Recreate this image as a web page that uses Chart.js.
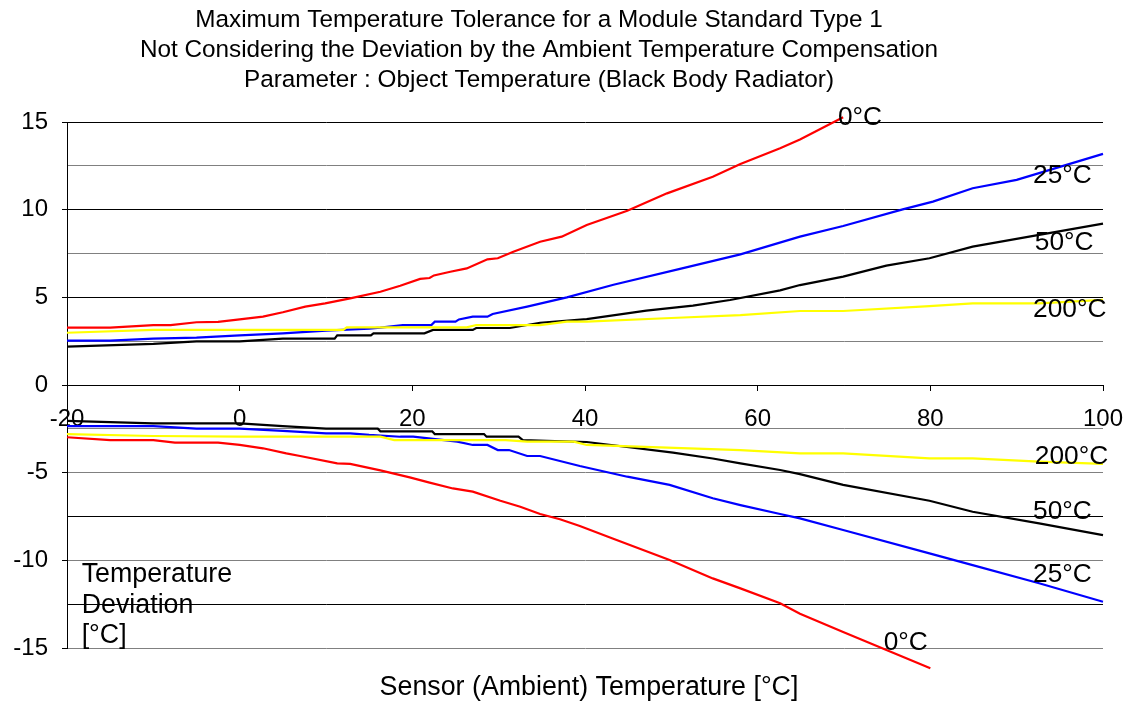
<!DOCTYPE html>
<html>
<head>
<meta charset="utf-8">
<script src="https://cdn.jsdelivr.net/npm/chart.js@4.4.0/dist/chart.umd.min.js"></script>
<style>
  html, body { margin: 0; padding: 0; background: #fff; }
</style>
</head>
<body>
<canvas id="chart" width="1128" height="704"></canvas>
<script>
// Curves: [sensor temperature, deviation]
const pos0C = [[-20,3.27],[-15,3.27],[-10,3.42],[-8,3.42],[-5,3.58],[-2.5,3.6],[0,3.74],[2.7,3.9],[5,4.15],[7.6,4.47],[9.9,4.66],[12.8,4.94],[16.3,5.32],[18.6,5.66],[20.9,6.05],[22,6.1],[22.5,6.25],[24.4,6.46],[26.3,6.65],[28.7,7.17],[29.9,7.23],[31.7,7.6],[34.8,8.17],[37.3,8.46],[40.2,9.13],[44.9,9.94],[49.5,10.93],[54.8,11.88],[58,12.6],[62.6,13.5],[64.9,14.0],[69.9,15.27]];
const pos25C = [[-20,2.53],[-15,2.53],[-10,2.64],[-5,2.7],[0,2.83],[5,2.95],[10,3.1],[15,3.21],[16.3,3.27],[18.9,3.42],[22.2,3.42],[22.6,3.61],[25,3.61],[25.4,3.74],[27,3.9],[28.7,3.9],[29.3,4.05],[33.3,4.47],[37.9,5.0],[43.3,5.72],[51,6.62],[58,7.45],[64.9,8.46],[69.9,9.07],[76.8,10.02],[80.3,10.46],[84.9,11.22],[90,11.7],[100,13.18]];
const pos50C = [[-20,2.19],[-10,2.34],[-5,2.49],[0,2.49],[5,2.64],[11,2.64],[11.3,2.83],[15.2,2.83],[15.5,2.95],[21.4,2.95],[22.4,3.14],[27,3.14],[27.4,3.25],[31.3,3.25],[34.8,3.55],[40.2,3.76],[47.1,4.24],[52.5,4.53],[56.8,4.85],[62.6,5.4],[64.9,5.7],[69.9,6.18],[74.9,6.81],[79.9,7.23],[84.9,7.89],[92.6,8.56],[100,9.2]];
const pos200C = [[-20,2.98],[-10,3.14],[0,3.14],[12,3.14],[12.4,3.29],[26.3,3.29],[27.4,3.42],[34.8,3.42],[37.9,3.61],[40.2,3.61],[50,3.82],[58,3.99],[64.9,4.22],[69.9,4.22],[79.9,4.5],[84.9,4.66],[92.6,4.66],[100,4.85]];
const neg0C = [[-20,-2.98],[-15,-3.14],[-10,-3.14],[-7.5,-3.29],[-2.5,-3.29],[0,-3.42],[2.7,-3.61],[5.4,-3.9],[7,-4.05],[11.3,-4.47],[12.8,-4.5],[16.3,-4.87],[19.7,-5.27],[22,-5.57],[24.7,-5.9],[27,-6.08],[30.2,-6.6],[32.5,-6.94],[34.8,-7.36],[37.1,-7.66],[39.4,-8.04],[43.2,-8.75],[49.8,-9.98],[54.8,-11.03],[58,-11.6],[62.6,-12.45],[64.9,-13.05],[69.9,-14.09],[80,-16.16]];
const neg25C = [[-20,-2.34],[-10,-2.34],[-5,-2.49],[0,-2.49],[5,-2.62],[10,-2.76],[12.8,-2.76],[15,-2.85],[18.6,-2.95],[20.1,-2.95],[25.2,-3.23],[27,-3.42],[28.7,-3.42],[29.9,-3.71],[31.2,-3.71],[33.3,-4.05],[34.8,-4.05],[39.4,-4.62],[44.9,-5.23],[49.8,-5.7],[54.8,-6.46],[58,-6.85],[62.6,-7.36],[64.9,-7.61],[69.9,-8.27],[79.9,-9.6],[84.9,-10.27],[92.6,-11.31],[100,-12.36]];
const neg50C = [[-20,-2.05],[-10,-2.19],[0,-2.19],[5,-2.34],[10,-2.49],[16,-2.49],[16.3,-2.64],[22.3,-2.64],[22.6,-2.8],[28.3,-2.8],[28.6,-2.95],[32.3,-2.95],[32.8,-3.14],[40.2,-3.25],[50.2,-3.86],[54.8,-4.19],[58,-4.47],[62.6,-4.85],[64.9,-5.08],[69.9,-5.7],[79.9,-6.6],[84.9,-7.23],[92.6,-7.89],[100,-8.56]];
const neg200C = [[-20,-2.8],[-10,-2.91],[0,-2.95],[16.3,-2.95],[17.9,-3.14],[30.8,-3.14],[33.3,-3.23],[38.7,-3.23],[40.2,-3.42],[58,-3.71],[64.9,-3.9],[69.9,-3.9],[79.9,-4.18],[84.9,-4.18],[92.6,-4.37],[100,-4.5]];

const titleLines = [
  'Maximum Temperature Tolerance for a Module Standard Type 1',
  'Not Considering the Deviation by the Ambient Temperature Compensation',
  'Parameter : Object Temperature (Black Body Radiator)'
];
const xTitle = 'Sensor (Ambient) Temperature [°C]';
const yTitle = ['Temperature', 'Deviation', '[°C]'];
// curve name, x value, y value where the name is written
const labelSpots = [
  ['0°C', 69.3, 15.23], ['25°C', 91.9, 11.92], ['50°C', 92.1, 8.12], ['200°C', 91.9, 4.28],
  ['200°C', 92.1, -4.09], ['50°C', 91.9, -7.23], ['25°C', 91.9, -10.84], ['0°C', 74.6, -14.7]
];
const darkGrid = [15, 10, 5, 0, -7.5, -12.5];

const FONT = '"Liberation Sans", Arial, sans-serif';
Chart.defaults.font.family = FONT;
Chart.defaults.color = '#000';

function toXY(arr) { return arr.map(p => ({x: p[0], y: p[1]})); }
function curve(arr, color) {
  return { data: toXY(arr), borderColor: color, borderWidth: 2.2, pointRadius: 0, tension: 0, clip: false, fill: false };
}

const textPlugin = {
  id: 'texts',
  afterDraw(chart) {
    const ctx = chart.ctx, xs = chart.scales.x, ys = chart.scales.y, area = chart.chartArea;
    ctx.save();
    ctx.fillStyle = '#000';
    ctx.textBaseline = 'middle';
    ctx.textAlign = 'center';
    ctx.font = '24.3px ' + FONT;
    titleLines.forEach((t, i) => ctx.fillText(t, 539, 20 + i * 30));
    ctx.font = '26.8px ' + FONT;
    ctx.fillText(xTitle, (area.left + area.right) / 2 + 4, 688);
    ctx.textAlign = 'left';
    const yx = xs.getPixelForValue(-18.3), yy = ys.getPixelForValue(-10.84);
    yTitle.forEach((t, i) => ctx.fillText(t, yx, yy + i * 30.5));
    ctx.font = '26.3px ' + FONT;
    labelSpots.forEach(l => ctx.fillText(l[0], xs.getPixelForValue(l[1]), ys.getPixelForValue(l[2])));
    ctx.restore();
  }
};

new Chart(document.getElementById('chart'), {
  type: 'line',
  data: {
    datasets: [
      curve(pos200C, '#FFFF00'), curve(neg200C, '#FFFF00'),
      curve(pos50C, '#000000'), curve(neg50C, '#000000'),
      curve(pos25C, '#0000FF'), curve(neg25C, '#0000FF'),
      curve(pos0C, '#FF0000'), curve(neg0C, '#FF0000')
    ]
  },
  options: {
    responsive: false,
    animation: false,
    layout: { padding: { top: 122, bottom: 56, left: 0, right: 25 } },
    plugins: { legend: { display: false }, tooltip: { enabled: false }, title: { display: false } },
    scales: {
      x: {
        type: 'linear',
        position: { y: 0 },
        min: -20, max: 100,
        afterFit(scale) { scale.paddingLeft = 0; scale.paddingRight = 0; },
        ticks: { stepSize: 20, font: { size: 24 }, padding: 15, color: '#000', maxRotation: 0 },
        grid: { drawOnChartArea: false, drawTicks: true, tickLength: 5, tickColor: '#000' },
        border: { display: true, color: '#000', width: 1 }
      },
      y: {
        type: 'linear',
        min: -15, max: 15,
        afterFit(scale) { scale.width = 67; },
        ticks: {
          stepSize: 2.5, font: { size: 24 }, padding: 14, color: '#000',
          callback: v => (v % 5 === 0 ? String(v) : '')
        },
        grid: {
          color: c => (darkGrid.includes(c.tick.value) ? '#000' : '#808080'),
          tickColor: c => (c.tick.value % 5 === 0 ? '#000' : 'rgba(0,0,0,0)'),
          tickLength: 5, lineWidth: 1
        },
        border: { display: true, color: '#000', width: 1 }
      }
    }
  },
  plugins: [textPlugin]
});
</script>
</body>
</html>
